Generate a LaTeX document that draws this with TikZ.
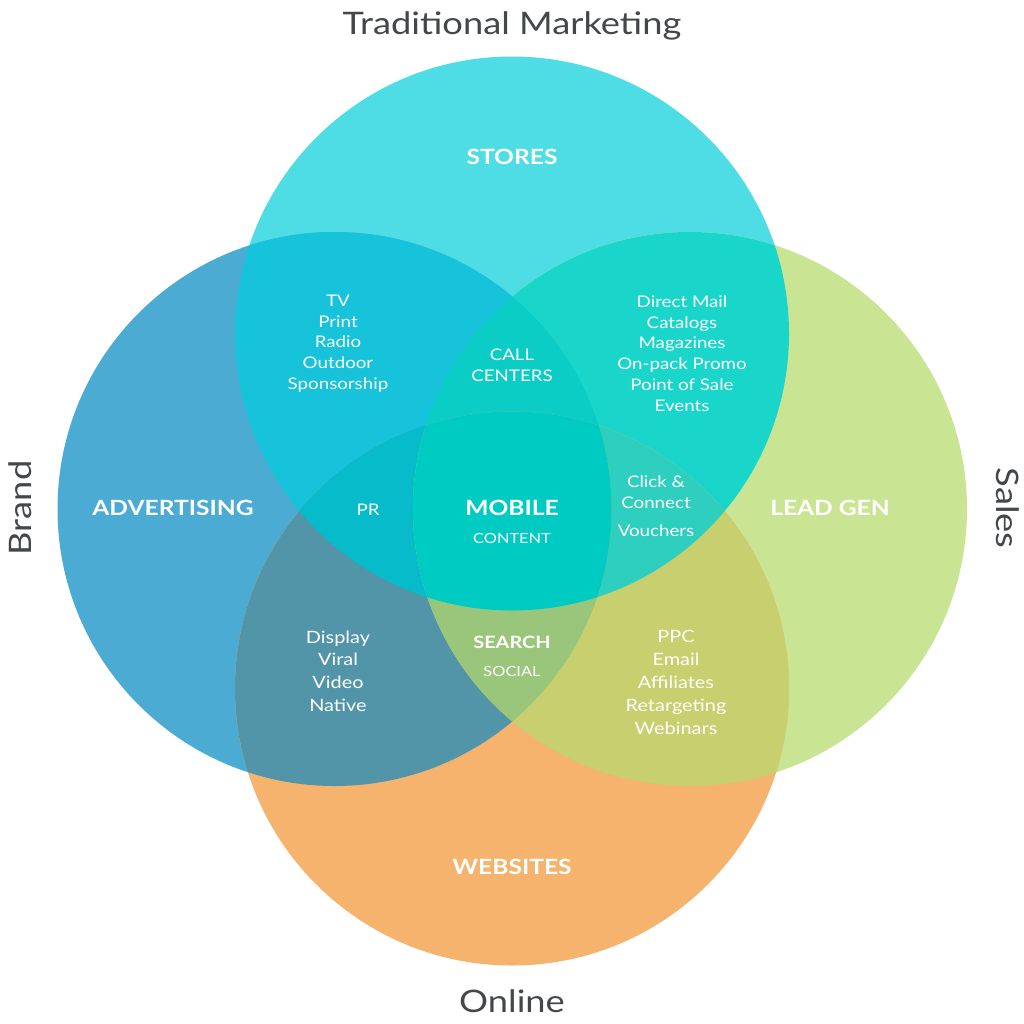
\documentclass[tikz,border=0pt]{standalone}
\usepackage{fontspec}
\setmainfont{Lato}[FakeStretch=1.17]
\definecolor{cT}{HTML}{4FDDE5}
\definecolor{cL}{HTML}{4BABD3}
\definecolor{cR}{HTML}{C9E594}
\definecolor{cB}{HTML}{F5B36E}
\definecolor{cTL}{HTML}{17C3DA}
\definecolor{cTR}{HTML}{1AD6CA}
\definecolor{cLB}{HTML}{5295A8}
\definecolor{cRB}{HTML}{C8CF6E}
\definecolor{cTLR}{HTML}{0CCDC5}
\definecolor{cTLB}{HTML}{07BBCB}
\definecolor{cTRB}{HTML}{2ECFBF}
\definecolor{cLRB}{HTML}{9AC67C}
\definecolor{cTLRB}{HTML}{00CBC2}
\definecolor{outer}{HTML}{44474A}
\tikzset{
  outerlab/.style={text=outer, font=\fontsize{31}{31}\selectfont, inner sep=0pt},
  head/.style={text=white, font=\bfseries\fontsize{21}{21}\selectfont, inner sep=0pt},
  sub/.style={text=white, font=\fontsize{14}{14}\selectfont, inner sep=0pt},
  items/.style={text=white, font=\fontsize{16}{20.7}\selectfont, align=center, inner sep=0pt},
  items2/.style={text=white, font=\fontsize{17}{22.8}\selectfont, align=center, inner sep=0pt}
}
\newcommand{\vcirc}[1]{(#1) circle[radius=277pt]}
\begin{document}
\begin{tikzpicture}[x=1pt,y=-1pt]
\useasboundingbox (0,0) rectangle (1024,1024);
\coordinate (cT) at (512,333.5);
\coordinate (cB) at (512,688.5);
\coordinate (cL) at (334.5,509);
\coordinate (cR) at (690,509);
% single circles
\fill[cT] \vcirc{cT};
\fill[cL] \vcirc{cL};
\fill[cR] \vcirc{cR};
\fill[cB] \vcirc{cB};
% pairs
\begin{scope}\clip \vcirc{cT}; \fill[cTL] \vcirc{cL};\end{scope}
\begin{scope}\clip \vcirc{cT}; \fill[cTR] \vcirc{cR};\end{scope}
\begin{scope}\clip \vcirc{cB}; \fill[cLB] \vcirc{cL};\end{scope}
\begin{scope}\clip \vcirc{cB}; \fill[cRB] \vcirc{cR};\end{scope}
% triples
\begin{scope}\clip \vcirc{cT}; \clip \vcirc{cL}; \fill[cTLR] \vcirc{cR};\end{scope}
\begin{scope}\clip \vcirc{cT}; \clip \vcirc{cL}; \fill[cTLB] \vcirc{cB};\end{scope}
\begin{scope}\clip \vcirc{cT}; \clip \vcirc{cR}; \fill[cTRB] \vcirc{cB};\end{scope}
\begin{scope}\clip \vcirc{cL}; \clip \vcirc{cR}; \fill[cLRB] \vcirc{cB};\end{scope}
% quadruple
\begin{scope}\clip \vcirc{cT}; \clip \vcirc{cL}; \clip \vcirc{cR}; \fill[cTLRB] \vcirc{cB};\end{scope}
% outer labels
\node[outerlab] (trad) at (512,26) {Traditional Marketing};
\node[outerlab] (online) at (512,1001) {Online};
\node[outerlab, rotate=90] (brand) at (20,508) {Brand};
\node[outerlab, rotate=-90] (sales) at (1008,508) {Sales};
% headings
\node[head] (stores) at (512,157) {STORES};
\node[head] (adv) at (173,508) {ADVERTISING};
\node[head] (lead) at (830,508) {LEAD GEN};
\node[head] (web) at (512,867) {WEBSITES};
\node[head] (mobile) at (512,508) {MOBILE};
\node[sub] (content) at (512,538) {CONTENT};
\node[text=white, font=\bfseries\fontsize{17}{17}\selectfont, inner sep=0pt] (search) at (512,642) {SEARCH};
\node[sub] (social) at (512,671) {SOCIAL};
\node[items] (call) at (512,365) {CALL\\CENTERS};
\node[items] (pr) at (368,510) {PR};
\node[items] (trad1) at (338,343.5) {TV\\Print\\Radio\\Outdoor\\Sponsorship};
\node[items] (direct) at (682,353.5) {Direct Mail\\Catalogs\\Magazines\\On-pack Promo\\Point of Sale\\Events};
\node[items] (click) at (656,492.5) {Click \&\\Connect};
\node[items] (vouch) at (656,531) {Vouchers};
\node[items2] (display) at (338,671) {Display\\Viral\\Video\\Native};
\node[items2] (ppc) at (676,682.5) {PPC\\Email\\Affiliates\\Retargeting\\Webinars};
\end{tikzpicture}
\end{document}
